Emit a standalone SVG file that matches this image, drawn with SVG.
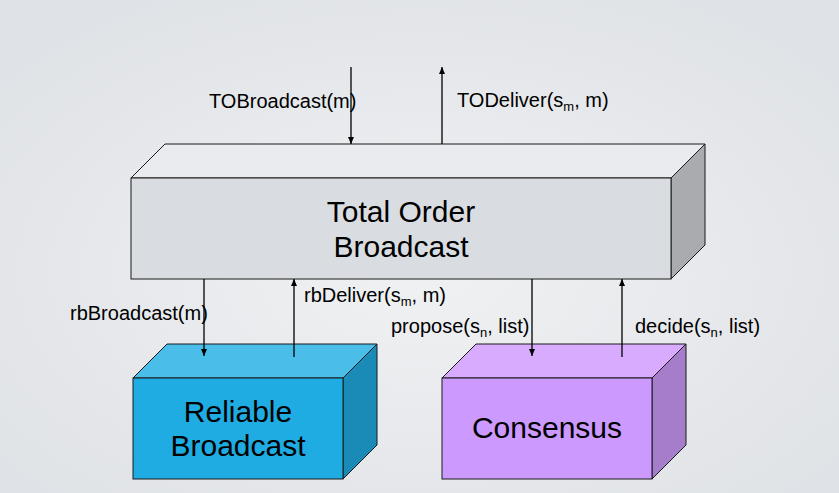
<svg xmlns="http://www.w3.org/2000/svg" width="839" height="493" viewBox="0 0 839 493">
<defs>
<radialGradient id="bg" cx="50%" cy="55%" r="65%">
<stop offset="0" stop-color="#f0f1f3"/>
<stop offset="1" stop-color="#dfe2e6"/>
</radialGradient>
<marker id="ah" markerUnits="userSpaceOnUse" markerWidth="8" markerHeight="10" refX="7" refY="3" orient="auto">
<path d="M0,0 L7,3 L0,6 Z" fill="#000"/>
</marker>
<style>
.edge{stroke:#1a1a1a;stroke-width:1}
.lbl{font-family:"Liberation Sans",Arial,sans-serif;font-size:20px;fill:#000}
.sub{font-size:13px}
.big{font-family:"Liberation Sans",Arial,sans-serif;font-size:30px;fill:#000;text-anchor:middle}
.con{stroke:#000;stroke-width:1.3;fill:none;marker-end:url(#ah)}
</style>
</defs>
<rect width="839" height="493" fill="url(#bg)"/>

<g id="tob">
<polygon class="edge" points="131,178 165,144 705,144 671,178" fill="#e9ebee"/>
<polygon class="edge" points="671,178 705,144 705,245 671,279" fill="#a9abae"/>
<rect class="edge" x="131" y="178" width="540" height="101" fill="#d9dde2"/>
<text class="big" x="401" y="222">Total Order</text>
<text class="big" x="401" y="257">Broadcast</text>
</g>

<g id="rb">
<polygon class="edge" points="133,378 167,344 377,344 343,378" fill="#4bbde9"/>
<polygon class="edge" points="343,378 377,344 377,445 343,479" fill="#1a8bb7"/>
<rect class="edge" x="133" y="378" width="210" height="101" fill="#1eace3"/>
<text class="big" x="238" y="422">Reliable</text>
<text class="big" x="238" y="456">Broadcast</text>
</g>

<g id="cons">
<polygon class="edge" points="442,378 476,344 686,344 652,378" fill="#d8abfe"/>
<polygon class="edge" points="652,378 686,344 686,445 652,479" fill="#a57dca"/>
<rect class="edge" x="442" y="378" width="210" height="101" fill="#cc99fe"/>
<text class="big" x="547" y="438">Consensus</text>
</g>

<g id="connectors">
<line class="con" x1="351" y1="67" x2="351" y2="144"/>
<line class="con" x1="442" y1="144" x2="442" y2="67"/>
<line class="con" x1="204" y1="279" x2="204" y2="356"/>
<line class="con" x1="294" y1="357" x2="294" y2="279"/>
<line class="con" x1="532" y1="279" x2="532" y2="356"/>
<line class="con" x1="622" y1="357" x2="622" y2="279"/>
</g>

<g id="labels">
<text class="lbl" x="209" y="108">TOBroadcast(m)</text>
<text class="lbl" x="457" y="107">TODeliver(s<tspan class="sub" dy="4">m</tspan><tspan dy="-4">, m)</tspan></text>
<text class="lbl" x="70" y="320">rbBroadcast(m)</text>
<text class="lbl" x="304" y="302">rbDeliver(s<tspan class="sub" dy="4">m</tspan><tspan dy="-4">, m)</tspan></text>
<text class="lbl" x="391" y="333">propose(s<tspan class="sub" dy="4">n</tspan><tspan dy="-4">, list)</tspan></text>
<text class="lbl" x="635" y="333">decide(s<tspan class="sub" dy="4">n</tspan><tspan dy="-4">, list)</tspan></text>
</g>
</svg>
